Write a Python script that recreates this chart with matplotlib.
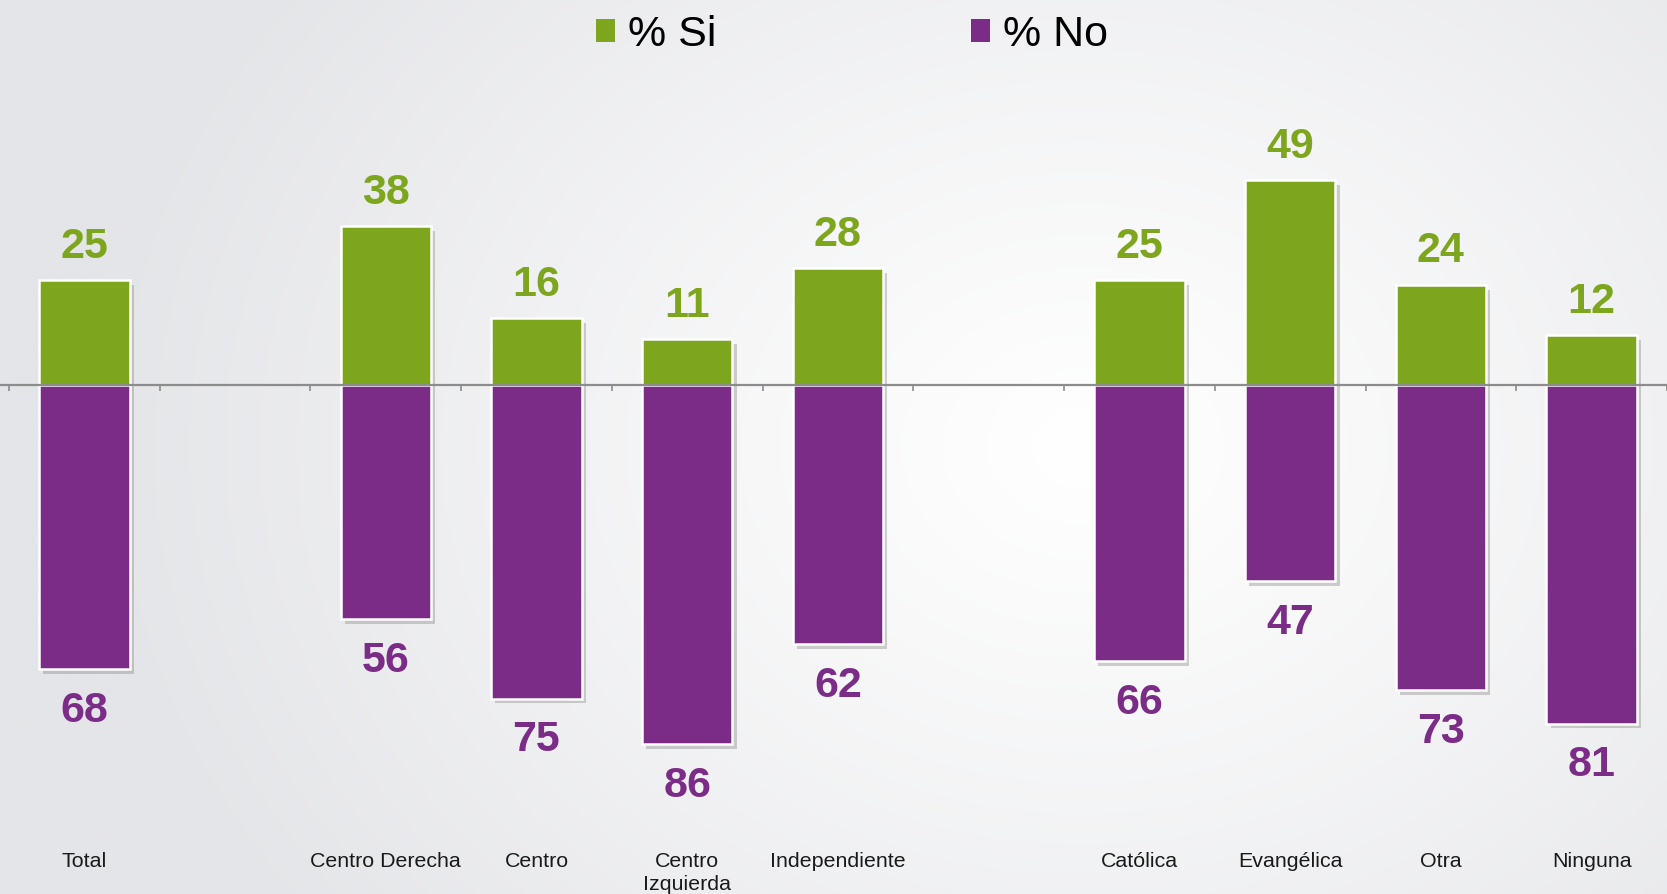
import numpy as np
import matplotlib.pyplot as plt
from matplotlib import patheffects as pe
from matplotlib.transforms import blended_transform_factory

# categories (blank slots separate the groups)
categories = ["Total", "", "Centro Derecha", "Centro", "Centro\nIzquierda",
              "Independiente", "", "Católica", "Evangélica", "Otra", "Ninguna"]
si = [25, np.nan, 38, 16, 11, 28, np.nan, 25, 49, 24, 12]
no = [68, np.nan, 56, 75, 86, 62, np.nan, 66, 47, 73, 81]

green = "#7DA61E"
purple = "#7B2C87"

plt.rcParams['font.family'] = ['Liberation Sans', 'DejaVu Sans']

W, H = 1667, 894
fig = plt.figure(figsize=(W / 100, H / 100), dpi=100)

# background radial gradient
bg = fig.add_axes([0, 0, 1, 1])
yy, xx = np.mgrid[0:1:300j, 0:1:560j]
r = np.sqrt(((xx - 0.65) * 1.5) ** 2 + ((yy - 0.5) * 1.0) ** 2)
shade = np.clip(r / 0.9, 0, 1) ** 1.1
c0 = np.array([1.0, 1.0, 1.0])
c1 = np.array([228, 229, 232]) / 255
img = c0[None, None, :] * (1 - shade[..., None]) + c1[None, None, :] * shade[..., None]
bg.imshow(img, aspect='auto', extent=[0, 1, 0, 1], origin='upper')
bg.axis('off')

ax = fig.add_axes([0, 0, 1, 1])
ax.patch.set_alpha(0)
x = np.arange(len(categories))
spacing = 151.9
ax.set_xlim(-0.5 - 9 / spacing, -0.5 - 9 / spacing + W / spacing)
ppu = 4.18
ax.set_ylim(-(H - 385) / ppu, 385 / ppu)

shadow = [pe.SimplePatchShadow(offset=(3, -3.5), shadow_rgbFace='#8a8a8a', alpha=0.4), pe.Normal()]
b1 = ax.bar(x, si, width=0.6, color=green, edgecolor='white', linewidth=1.8, label='% Si', zorder=3)
b2 = ax.bar(x, -np.array(no), width=0.6, color=purple, edgecolor='white', linewidth=1.8, label='% No', zorder=3)
for p in list(b1) + list(b2):
    p.set_path_effects(shadow)

for xi, s, n in zip(x, si, no):
    if np.isnan(s):
        continue
    ax.annotate(f"{s:.0f}", (xi, s), xytext=(0, 24), textcoords='offset points',
                ha='center', va='center', fontsize=31, fontweight='bold', color=green)
    ax.annotate(f"{n:.0f}", (xi, -n), xytext=(0, -30), textcoords='offset points',
                ha='center', va='center', fontsize=31, fontweight='bold', color=purple)

# axis line with tick marks at category boundaries
for s in ['top', 'right', 'left']:
    ax.spines[s].set_visible(False)
ax.spines['bottom'].set_position(('data', 0))
ax.spines['bottom'].set_color('#8C8C8C')
ax.spines['bottom'].set_linewidth(1.6)
ax.spines['bottom'].set_zorder(4)
ax.set_xticks(np.arange(len(categories) + 1) - 0.5)
ax.set_xticklabels([])
ax.tick_params(axis='x', direction='out', length=4.5, width=1.2, color='#8C8C8C')
ax.set_yticks([])

trans = blended_transform_factory(ax.transData, fig.transFigure)
for xi, c in zip(x, categories):
    if c:
        ax.text(xi, 1 - 852 / H, c, transform=trans, ha='center', va='top',
                fontsize=15.4, color='#1a1a1a', linespacing=1.3)

leg = ax.legend(handles=[b1, b2], loc='center', bbox_to_anchor=(0.511, 1 - 35 / H),
                bbox_transform=fig.transFigure, ncol=2, frameon=False, fontsize=31,
                handlelength=0.45, handleheight=0.45, handletextpad=0.3,
                columnspacing=5.9, borderpad=0)
for h in leg.legend_handles:
    h.set_path_effects([])
    h.set_linewidth(0)

fig.savefig("out.png", dpi=100)
